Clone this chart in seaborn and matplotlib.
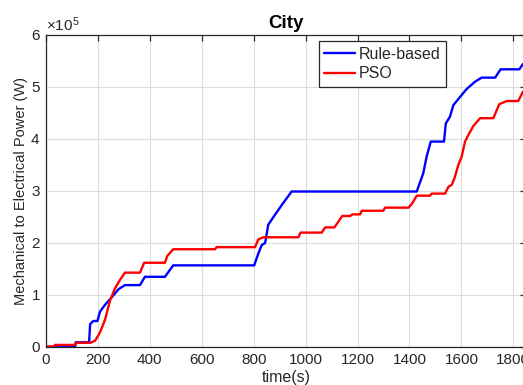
import numpy as np
import pandas as pd
import matplotlib
matplotlib.use("Agg")
import matplotlib.pyplot as plt
from matplotlib.ticker import ScalarFormatter, MultipleLocator
import seaborn as sns

# Cumulative mechanical-to-electrical power over the city drive cycle
t_rule = [0, 112, 114, 166, 170, 182, 198, 208, 227, 253, 279, 304, 362, 381, 458, 490,
          802, 818, 831, 844, 856, 876, 908, 946, 1428, 1453, 1466, 1482, 1533, 1540,
          1556, 1569, 1595, 1620, 1652, 1678, 1730, 1751, 1823, 1837]
p_rule = [0.0, 0.0, 0.09, 0.09, 0.44, 0.50, 0.50, 0.68, 0.81, 0.955, 1.11, 1.19, 1.19, 1.35,
          1.35, 1.57, 1.57, 1.80, 1.96, 2.00, 2.35, 2.50, 2.73, 2.99, 2.99, 3.34, 3.66, 3.95,
          3.95, 4.30, 4.43, 4.65, 4.81, 4.96, 5.10, 5.18, 5.18, 5.34, 5.34, 5.44]

t_pso = [0, 30, 35, 112, 116, 170, 189, 208, 227, 247, 266, 285, 304, 362, 378, 458, 467,
         490, 651, 657, 805, 818, 837, 972, 980, 1062, 1075, 1111, 1141, 1172, 1180, 1210,
         1216, 1299, 1306, 1396, 1409, 1428, 1479, 1486, 1537, 1550, 1563, 1575, 1588, 1601,
         1614, 1627, 1646, 1672, 1723, 1746, 1775, 1819, 1837]
p_pso = [0.01, 0.01, 0.04, 0.04, 0.08, 0.08, 0.12, 0.28, 0.52, 0.90, 1.13, 1.29, 1.43, 1.43,
         1.62, 1.62, 1.75, 1.88, 1.88, 1.92, 1.92, 2.07, 2.11, 2.11, 2.20, 2.20, 2.30, 2.30,
         2.52, 2.52, 2.55, 2.55, 2.62, 2.62, 2.68, 2.68, 2.75, 2.91, 2.91, 2.95, 2.95, 3.08,
         3.12, 3.27, 3.50, 3.66, 3.95, 4.08, 4.25, 4.40, 4.40, 4.67, 4.73, 4.73, 4.91]

series_names = ["Rule-based", "PSO"]
scale = 1e5

df = pd.concat([
    pd.DataFrame({"time": t_rule, "power": np.array(p_rule) * scale, "strategy": series_names[0]}),
    pd.DataFrame({"time": t_pso, "power": np.array(p_pso) * scale, "strategy": series_names[1]}),
], ignore_index=True)

sns.set_theme(style="white")
plt.rcParams["font.family"] = ["Liberation Sans", "DejaVu Sans"]
plt.rcParams["mathtext.fontset"] = "custom"
plt.rcParams["mathtext.rm"] = "Liberation Sans"
plt.rcParams["mathtext.it"] = "Liberation Sans:italic"

fig = plt.figure(figsize=(5.23, 3.85), dpi=100)
ax = fig.add_axes([46 / 523, 38 / 385, 480.3 / 523, 312 / 385])

sns.lineplot(data=df, x="time", y="power", hue="strategy", hue_order=series_names,
             palette={"Rule-based": "#0000ff", "PSO": "#ff0000"},
             estimator=None, sort=False, linewidth=1.7, ax=ax)

ax.set_xlim(0, 1850)
ax.set_ylim(0, 6e5)
ax.xaxis.set_major_locator(MultipleLocator(200))
ax.yaxis.set_major_locator(MultipleLocator(1e5))
fmt = ScalarFormatter(useMathText=True)
fmt.set_powerlimits((0, 0))
ax.yaxis.set_major_formatter(fmt)

dark = "#262626"
ax.grid(True, color="#dcdcdc", linewidth=0.8)
ax.set_axisbelow(True)
for side in ["left", "bottom", "top", "right"]:
    ax.spines[side].set_color(dark)
    ax.spines[side].set_linewidth(0.9)
ax.tick_params(axis="both", direction="in", length=4, width=0.9, colors=dark,
               labelsize=11, top=True, right=True, labelcolor=dark, pad=4)
ax.yaxis.get_offset_text().set_fontsize(11)
ax.yaxis.get_offset_text().set_color(dark)

ax.set_title("City", fontsize=13.5, fontweight="bold", color="black", pad=5)
ax.set_xlabel("time(s)", fontsize=11.5, color=dark, labelpad=2.5)
ax.set_ylabel("Mechanical to Electrical Power (W)", fontsize=10.5, color=dark, labelpad=2)

leg = ax.legend(loc="upper left", bbox_to_anchor=(0.568, 0.981), fontsize=11.5,
                frameon=True, fancybox=False, edgecolor=dark, framealpha=1,
                handlelength=1.9, borderpad=0.35, labelspacing=0.3, handletextpad=0.25,
                borderaxespad=0)
leg.get_frame().set_linewidth(0.9)
leg.set_title(None)

fig.savefig("out.png", dpi=100)
